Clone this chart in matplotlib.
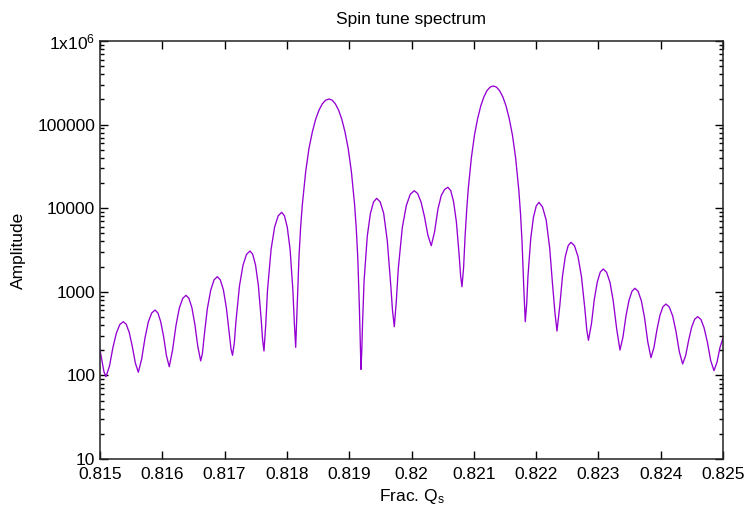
import matplotlib
matplotlib.use('Agg')
import matplotlib.pyplot as plt
from matplotlib.ticker import FixedLocator, FixedFormatter, LogLocator, NullFormatter

# Spectrum, lobe by lobe (fractional spin tune, amplitude)
tune = [
    0.815000, 0.815032, 0.815064, 0.815096,
    0.815152, 0.815207, 0.815263, 0.815318, 0.815374, 0.815422, 0.815470, 0.815518, 0.815567, 0.815615,
    0.815668, 0.815722, 0.815775, 0.815830, 0.815883, 0.815929, 0.815974, 0.816021, 0.816066, 0.816112,
    0.816165, 0.816220, 0.816273, 0.816327, 0.816380, 0.816427, 0.816475, 0.816522, 0.816570, 0.816616,
    0.816644, 0.816669, 0.816722, 0.816777, 0.816830, 0.816883, 0.816931, 0.816981, 0.817029, 0.817079,
    0.817103, 0.817127,
    0.817156, 0.817183, 0.817239, 0.817295, 0.817351, 0.817408, 0.817452, 0.817497, 0.817542, 0.817587,
    0.817610, 0.817632,
    0.817661, 0.817688, 0.817746, 0.817802, 0.817860, 0.817916, 0.817961, 0.818006, 0.818051, 0.818096,
    0.818119, 0.818141,
    0.818168, 0.818194, 0.818221, 0.818249, 0.818302, 0.818354, 0.818409, 0.818462, 0.818515, 0.818568,
    0.818622, 0.818676, 0.818727, 0.818778, 0.818830, 0.818881, 0.818932, 0.818984, 0.819035, 0.819086,
    0.819112, 0.819138, 0.819163, 0.819189,
    0.819202, 0.819215, 0.819239, 0.819290, 0.819340, 0.819391, 0.819441, 0.819497, 0.819553, 0.819611,
    0.819667, 0.819695, 0.819724,
    0.819756, 0.819788, 0.819852, 0.819916, 0.819980, 0.820045, 0.820099, 0.820154, 0.820208, 0.820263,
    0.820317,
    0.820370, 0.820425, 0.820478, 0.820532, 0.820585, 0.820630, 0.820675, 0.820720, 0.820765, 0.820788,
    0.820810,
    0.820836, 0.820860, 0.820886, 0.820911, 0.820961, 0.821011, 0.821062, 0.821112, 0.821162, 0.821211,
    0.821263, 0.821313, 0.821364, 0.821415, 0.821467, 0.821518, 0.821569, 0.821621, 0.821672, 0.821723,
    0.821749, 0.821775, 0.821800, 0.821826,
    0.821849, 0.821869, 0.821914, 0.821958, 0.822003, 0.822046, 0.822104, 0.822162, 0.822219, 0.822263,
    0.822303, 0.822335,
    0.822380, 0.822425, 0.822470, 0.822515, 0.822560, 0.822616, 0.822672, 0.822728, 0.822784, 0.822813,
    0.822840,
    0.822889, 0.822935, 0.822983, 0.823030, 0.823078, 0.823131, 0.823186, 0.823238, 0.823293, 0.823346,
    0.823394, 0.823442, 0.823491, 0.823539, 0.823587, 0.823638, 0.823690, 0.823741, 0.823792, 0.823844,
    0.823892, 0.823940, 0.823988, 0.824036, 0.824084, 0.824137, 0.824192, 0.824245, 0.824299, 0.824352,
    0.824400, 0.824449, 0.824497, 0.824545, 0.824593, 0.824646, 0.824697, 0.824750, 0.824802, 0.824855,
    0.824903, 0.824951, 0.825000,
]
amplitude = [
    201, 148, 110, 96.6,
    129, 215, 321, 406, 439, 408, 325, 223, 141, 109,
    156, 280, 434, 558, 605, 559, 440, 292, 173, 127,
    202, 397, 638, 833, 908, 836, 646, 411, 222, 149,
    183, 280, 622, 1044, 1386, 1517, 1389, 1053, 638, 302,
    207, 174,
    245, 451, 1177, 2073, 2799, 3076, 2801, 2081, 1191, 471,
    267, 196,
    410, 1030, 3215, 5914, 8099, 8933, 8101, 5922, 3228, 1049,
    431, 217,
    767, 2624, 6060, 11280, 27500, 51800, 82100, 116000, 148900, 177000,
    195800, 202300, 195900, 177100, 149000, 116000, 82050, 51700, 27400, 11180,
    5960, 2525, 668, 118,
    198, 436, 1360, 4610, 8627, 11880, 13120, 11900, 8719, 4100,
    1200, 600, 383,
    770, 1892, 5841, 10720, 14670, 16180, 14970, 11820, 7918, 4762,
    3556,
    5200, 9800, 14200, 16800, 17780, 16190, 12035, 6896, 2739, 1558,
    1151,
    1939, 4598, 9523, 17000, 40260, 75000, 118500, 167200, 214400, 254600,
    281600, 289700, 280800, 253900, 213700, 166400, 117800, 74310, 39550, 16290,
    8811, 3886, 1227, 439,
    716, 1519, 4347, 7842, 10670, 11750, 10300, 7200, 3300, 1250,
    560, 339,
    680, 1572, 2675, 3567, 3908, 3560, 2649, 1522, 611, 352,
    263,
    417, 820, 1318, 1721, 1875, 1715, 1297, 779, 361, 201,
    287, 512, 791, 1016, 1102, 1012, 778, 487, 253, 163,
    216, 353, 524, 661, 714, 659, 515, 336, 192, 137,
    172, 264, 377, 469, 504, 467, 369, 249, 151, 114,
    143, 215, 280,
]

xtick_values = [0.815, 0.816, 0.817, 0.818, 0.819, 0.820, 0.821, 0.822, 0.823, 0.824, 0.825]
xtick_labels = ['0.815', '0.816', '0.817', '0.818', '0.819', '0.82',
                '0.821', '0.822', '0.823', '0.824', '0.825']
ytick_values = [10, 100, 1000, 10000, 100000, 1000000]
ytick_labels = ['10', '100', '1000', '10000', '100000', '1x10$^{6}$']

plt.rcParams['font.family'] = ['Liberation Sans', 'DejaVu Sans']
plt.rcParams['mathtext.fontset'] = 'custom'
plt.rcParams['mathtext.rm'] = 'Liberation Sans'
plt.rcParams['mathtext.default'] = 'regular'

fig = plt.figure(figsize=(7.48, 5.12), dpi=100)
ax = fig.add_axes([100 / 748, 1 - 459 / 512, 623 / 748, 418 / 512])

ax.plot(tune, amplitude, color='#9400d3', linewidth=0.95)

ax.set_yscale('log')
ax.set_xlim(0.815, 0.825)
ax.set_ylim(10, 1e6)

ax.xaxis.set_major_locator(FixedLocator(xtick_values))
ax.xaxis.set_major_formatter(FixedFormatter(xtick_labels))
ax.yaxis.set_major_locator(FixedLocator(ytick_values))
ax.yaxis.set_major_formatter(FixedFormatter(ytick_labels))
ax.yaxis.set_minor_locator(LogLocator(base=10, subs=range(2, 10)))
ax.yaxis.set_minor_formatter(NullFormatter())

ax.tick_params(which='both', direction='in', top=True, right=True,
               labelsize=12.5, colors='black')
ax.tick_params(which='major', length=6, width=1)
ax.tick_params(which='minor', length=3, width=1)
ax.tick_params(axis='x', pad=6)
for sp in ax.spines.values():
    sp.set_linewidth(1.1)
    sp.set_color('#222222')

ax.set_title('Spin tune spectrum', fontsize=12.5, pad=12)
ax.set_xlabel('Frac. Q$_s$', fontsize=12.5, labelpad=3)
ax.set_ylabel('Amplitude', fontsize=12.5, labelpad=8)

fig.savefig('out.png', dpi=100)
